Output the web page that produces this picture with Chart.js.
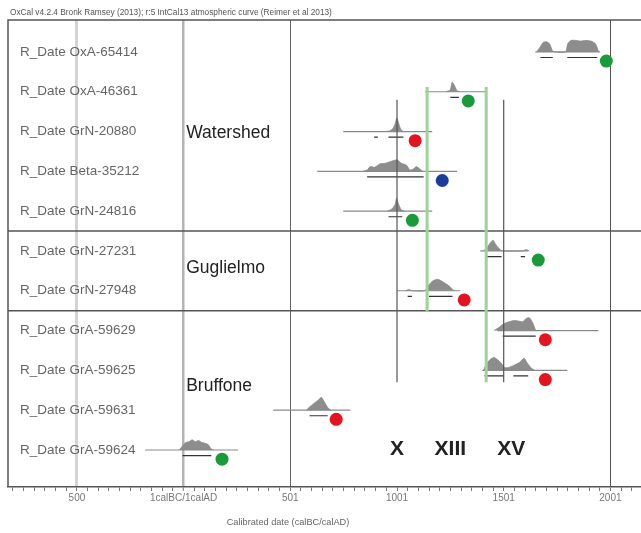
<!DOCTYPE html>
<html>
<head>
<meta charset="utf-8">
<script src="https://cdn.jsdelivr.net/npm/chart.js@4.4.1/dist/chart.umd.min.js"></script>
<style>
  html, body { margin: 0; padding: 0; background: #fff; overflow: hidden; }
  #wrap { width: 660px; height: 533px; }
</style>
</head>
<body>
<div id="wrap"><canvas id="chart"></canvas></div>
<script>
// sample names, one per row (top to bottom)
const sampleLabels = ['R_Date OxA-65414', 'R_Date OxA-46361', 'R_Date GrN-20880', 'R_Date Beta-35212',
  'R_Date GrN-24816', 'R_Date GrN-27231', 'R_Date GrN-27948', 'R_Date GrA-59629',
  'R_Date GrA-59625', 'R_Date GrA-59631', 'R_Date GrA-59624'];

// full extent of each calibrated range (years AD, negative = BC)
const rangeFrom = [1648, 1132, 748, 626, 748, 1390, 1001, 1470, 1400, 420, -180];
const rangeTo = [1952, 1413, 1165, 1282, 1165, 1615, 1296, 1943, 1798, 781, 255];

// probability distributions: [year, relative height]
const densities = [
  [[1655,0],[1672,0.4],[1685,0.7],[1700,0.75],[1715,0.6],[1728,0.1],[1740,0],[1790,0],[1800,0.6],[1815,0.85],[1840,0.85],[1860,0.8],[1885,0.85],[1910,0.8],[1930,0.6],[1945,0]],
  [[1230,0],[1250,0.15],[1258,0.7],[1268,0.5],[1280,0.1],[1295,0]],
  [[940,0],[965,0.05],[980,0.2],[992,0.6],[999,1.0],[1006,0.7],[1018,0.15],[1030,0]],
  [[840,0],[860,0.1],[875,0.35],[895,0.3],[920,0.55],[945,0.6],[965,0.7],[985,0.8],[1000,0.85],[1020,0.6],[1045,0.45],[1060,0.1],[1075,0.15],[1090,0.35],[1105,0.2],[1120,0]],
  [[955,0],[975,0.15],[990,0.45],[998,0.95],[1005,0.6],[1020,0.1],[1035,0]],
  [[1405,0],[1420,0.2],[1435,0.55],[1450,0.8],[1462,0.5],[1480,0.15],[1495,0],[1590,0],[1605,0.1],[1620,0]],
  [[1040,0],[1055,0.1],[1070,0],[1130,0],[1150,0.45],[1170,0.75],[1190,0.85],[1205,0.75],[1225,0.55],[1245,0.35],[1260,0.1],[1270,0]],
  [[1455,0],[1475,0.2],[1500,0.5],[1525,0.65],[1550,0.75],[1570,0.7],[1590,0.65],[1605,0.9],[1620,0.95],[1635,0.6],[1650,0]],
  [[1405,0],[1420,0.5],[1440,0.85],[1455,0.95],[1470,0.8],[1490,0.5],[1505,0.2],[1520,0.2],[1545,0.35],[1575,0.6],[1595,0.9],[1610,0.55],[1630,0.15],[1645,0]],
  [[575,0],[595,0.3],[615,0.55],[632,0.75],[645,0.95],[660,0.6],[675,0.2],[690,0]],
  [[-20,0],[-5,0.3],[10,0.55],[25,0.6],[40,0.75],[55,0.6],[70,0.7],[85,0.55],[100,0.5],[115,0.4],[128,0.1],[140,0]]
];

// 95% ranges shown as small brackets under each distribution
const brackets = [
  [[1672,1730],[1798,1938]],
  [[1250,1290]],
  [[893,910],[960,1030]],
  [[860,1125]],
  [[960,1025]],
  [[1420,1490],[1580,1600]],
  [[1050,1070],[1150,1260]],
  [[1495,1650]],
  [[1410,1500],[1545,1615]],
  [[590,675]],
  [[-5,130]]
];

const dotYear = [1981, 1334, 1085, 1212, 1072, 1662, 1315, 1695, 1695, 715, 180];
const dotColor = ['green', 'green', 'red', 'blue', 'green', 'green', 'red', 'red', 'red', 'red', 'green'];

const groupNames = ['Watershed', 'Guglielmo', 'Bruffone'];
const groupRows = [2.03, 5.43, 8.39];
const groupBreaks = [4.5, 6.5];

const centuryNames = ['X', 'XIII', 'XV'];
const centuryYears = [1000, 1250, 1535];
const centuryLines = [1000, 1500];
const phaseBounds = [1141, 1418];
const phaseEnds = [6.53, 8.3];

const tickYears = [-500, 0, 500, 1000, 1500, 2000];
const tickLabels = ['500', '1calBC/1calAD', '501', '1001', '1501', '2001'];

const xMin = -823, xMax = 2202;
const colors = { green: '#1a9a3a', red: '#e3141f', blue: '#1c3c9c' };
const font = '"Liberation Sans", Arial, sans-serif';

const datasets = [];

// century and phase marker lines
centuryLines.forEach(yr => {
  datasets.push({ type: 'line', data: [{x: yr, y: 1.2}, {x: yr, y: 8.3}],
    borderColor: '#555', borderWidth: 1.2, pointRadius: 0, fill: false });
});
phaseBounds.forEach((yr, i) => {
  datasets.push({ type: 'line', data: [{x: yr, y: 0.88}, {x: yr, y: phaseEnds[i]}],
    borderColor: '#9ed29a', borderWidth: 3, pointRadius: 0, fill: false });
});
groupBreaks.forEach(b => {
  datasets.push({ type: 'line', data: [{x: xMin, y: b}, {x: xMax, y: b}],
    borderColor: '#555', borderWidth: 1.5, pointRadius: 0, fill: false });
});

sampleLabels.forEach((lab, i) => {
  datasets.push({ type: 'line', data: [{x: rangeFrom[i], y: i}, {x: rangeTo[i], y: i}],
    borderColor: '#8a8a8a', borderWidth: 1.2, pointRadius: 0, fill: false });
  datasets.push({ type: 'line', data: densities[i].map(p => ({x: p[0], y: i - p[1] * 0.34})),
    borderColor: '#888', borderWidth: 0.8, backgroundColor: '#8d8d8d', pointRadius: 0,
    tension: 0.2, fill: {value: i} });
  const segs = [];
  brackets[i].forEach(b => {
    segs.push({x: b[0], y: i + 0.14}, {x: b[1], y: i + 0.14}, {x: b[1], y: null});
  });
  datasets.push({ type: 'line', data: segs, borderColor: '#333', borderWidth: 1.2,
    pointRadius: 0, spanGaps: false, fill: false });
});

datasets.push({ type: 'scatter', data: dotYear.map((yr, i) => ({x: yr, y: i + 0.23})),
  pointRadius: 6.5, pointHoverRadius: 6.5, borderWidth: 0,
  pointBackgroundColor: dotColor.map(c => colors[c]) });

const textPlugin = {
  id: 'texts',
  beforeDatasetsDraw(chart) {
    const { ctx, chartArea } = chart;
    ctx.save();
    ctx.strokeStyle = '#555';
    ctx.lineWidth = 1.5;
    ctx.beginPath();
    ctx.moveTo(chartArea.left, chartArea.bottom);
    ctx.lineTo(chartArea.left, chartArea.top);
    ctx.lineTo(chartArea.right, chartArea.top);
    ctx.stroke();
    ctx.restore();
  },
  afterDatasetsDraw(chart) {
    const { ctx } = chart;
    const xs = chart.scales.x, ys = chart.scales.y;
    ctx.save();
    ctx.fillStyle = '#222';
    ctx.font = '17.5px ' + font;
    ctx.textAlign = 'left';
    ctx.textBaseline = 'middle';
    groupNames.forEach((g, i) => ctx.fillText(g, xs.getPixelForValue(12), ys.getPixelForValue(groupRows[i])));
    ctx.font = 'bold 21px ' + font;
    ctx.textAlign = 'center';
    centuryNames.forEach((c, i) => ctx.fillText(c, xs.getPixelForValue(centuryYears[i]), ys.getPixelForValue(9.98)));
    ctx.restore();
  },
  afterDraw(chart) {
    const { ctx } = chart;
    ctx.save();
    ctx.fillStyle = '#666';
    ctx.font = '9.2px ' + font;
    ctx.textAlign = 'center';
    ctx.textBaseline = 'middle';
    ctx.fillText('Calibrated date (calBC/calAD)', 288, 522);
    ctx.font = '8.3px ' + font;
    ctx.textAlign = 'left';
    ctx.fillStyle = '#555';
    ctx.fillText('OxCal v4.2.4 Bronk Ramsey (2013); r:5 IntCal13 atmospheric curve (Reimer et al 2013)', 10, 13);
    ctx.restore();
  }
};

const gridColor = v => ({ '-500': '#d4d4d4', '0': '#b4b4b4', '500': '#666', '2000': '#555' })[v] || 'rgba(0,0,0,0)';
const gridWidth = v => ({ '-500': 3, '0': 2.5 })[v] || 1;

new Chart(document.getElementById('chart'), {
  data: { datasets: datasets },
  options: {
    responsive: true,
    maintainAspectRatio: false,
    animation: false,
    layout: { padding: { top: 20, right: 0, left: 0, bottom: 0 } },
    plugins: { legend: { display: false }, tooltip: { enabled: false } },
    scales: {
      x: {
        type: 'linear', min: xMin, max: xMax,
        afterBuildTicks: s => { const t = []; for (let v = -800; v <= 2200; v += 50) t.push({ value: v }); s.ticks = t; },
        afterFit: s => { s.height = 46; },
        ticks: {
          autoSkip: false, maxRotation: 0, padding: 1, color: '#777', font: { family: font, size: 10 },
          callback: v => { const k = tickYears.indexOf(v); return k >= 0 ? tickLabels[k] : ''; }
        },
        grid: {
          color: c => gridColor(c.tick ? c.tick.value : null),
          lineWidth: c => gridWidth(c.tick ? c.tick.value : null),
          tickColor: '#777', tickWidth: 1, tickLength: 4
        },
        border: { display: true, color: '#555', width: 1.5 }
      },
      y: {
        type: 'linear', reverse: true, min: -0.8, max: 10.93,
        afterBuildTicks: s => { s.ticks = sampleLabels.map((l, i) => ({ value: i })); },
        afterFit: s => { s.width = 8; },
        ticks: {
          mirror: true, padding: 12, color: '#666', font: { family: font, size: 13.5 },
          callback: v => sampleLabels[v]
        },
        grid: { display: false, drawTicks: false },
        border: { display: false }
      }
    }
  },
  plugins: [textPlugin]
});
</script>
</body>
</html>
